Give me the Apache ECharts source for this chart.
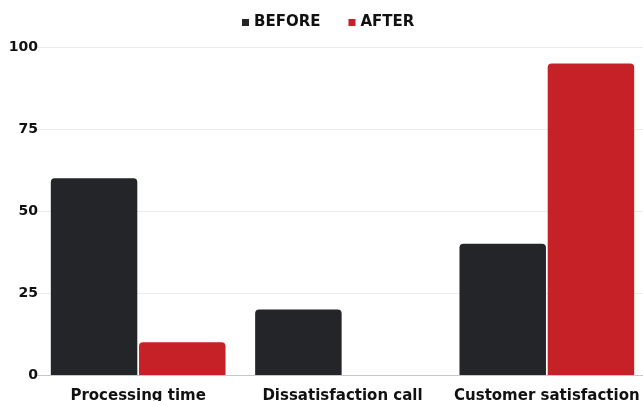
<!DOCTYPE html>
<html>
<head>
<meta charset="utf-8">
<script src="https://cdn.jsdelivr.net/npm/echarts@6/dist/echarts.min.js"></script>
<style>
html,body{margin:0;padding:0;background:#fff;}
#chart{width:643px;height:401px;}
</style>
</head>
<body>
<div id="chart"></div>
<script>
const categories = ['Processing time', 'Dissatisfaction call', 'Customer satisfaction'];
const beforeValues = [60, 20, 40];
const afterValues = [10, 0, 95];
const seriesNames = ['BEFORE', 'AFTER'];
const yTicks = { min: 0, max: 100, interval: 25 };

const FONT = 'DejaVu Sans';
const chart = echarts.init(document.getElementById('chart'), null, { renderer: 'canvas' });
chart.setOption({
  animation: false,
  backgroundColor: '#ffffff',
  color: ['#232528', '#c62127'],
  legend: {
    left: 237,
    top: 10,
    itemWidth: 7,
    itemHeight: 7,
    itemGap: 28,
    icon: 'rect',
    textStyle: { fontFamily: FONT, fontWeight: 'bold', fontSize: 15, color: '#111' },
    data: seriesNames
  },
  grid: { left: 36, width: 613, top: 47, height: 328, containLabel: false, outerBoundsMode: 'none' },
  xAxis: {
    type: 'category',
    data: categories,
    axisTick: { show: false },
    axisLine: { show: true, lineStyle: { color: '#c8c8c8', width: 1 } },
    axisLabel: { margin: 14, fontFamily: FONT, fontWeight: 'bold', fontSize: 15, color: '#111', interval: 0 }
  },
  yAxis: {
    type: 'value',
    min: yTicks.min,
    max: yTicks.max,
    interval: yTicks.interval,
    axisLine: { show: false },
    axisTick: { show: false },
    splitLine: { lineStyle: { color: '#ebebeb', width: 1 } },
    axisLabel: { margin: -2, fontFamily: FONT, fontWeight: 'bold', fontSize: 14, color: '#111' }
  },
  series: [
    {
      name: seriesNames[0],
      type: 'bar',
      data: beforeValues,
      barGap: '2%',
      barCategoryGap: '14.5%',
      itemStyle: { borderRadius: [4, 4, 0, 0] }
    },
    {
      name: seriesNames[1],
      type: 'bar',
      data: afterValues,
      barGap: '2%',
      barCategoryGap: '14.5%',
      itemStyle: { borderRadius: [4, 4, 0, 0] }
    }
  ]
});
</script>
</body>
</html>
